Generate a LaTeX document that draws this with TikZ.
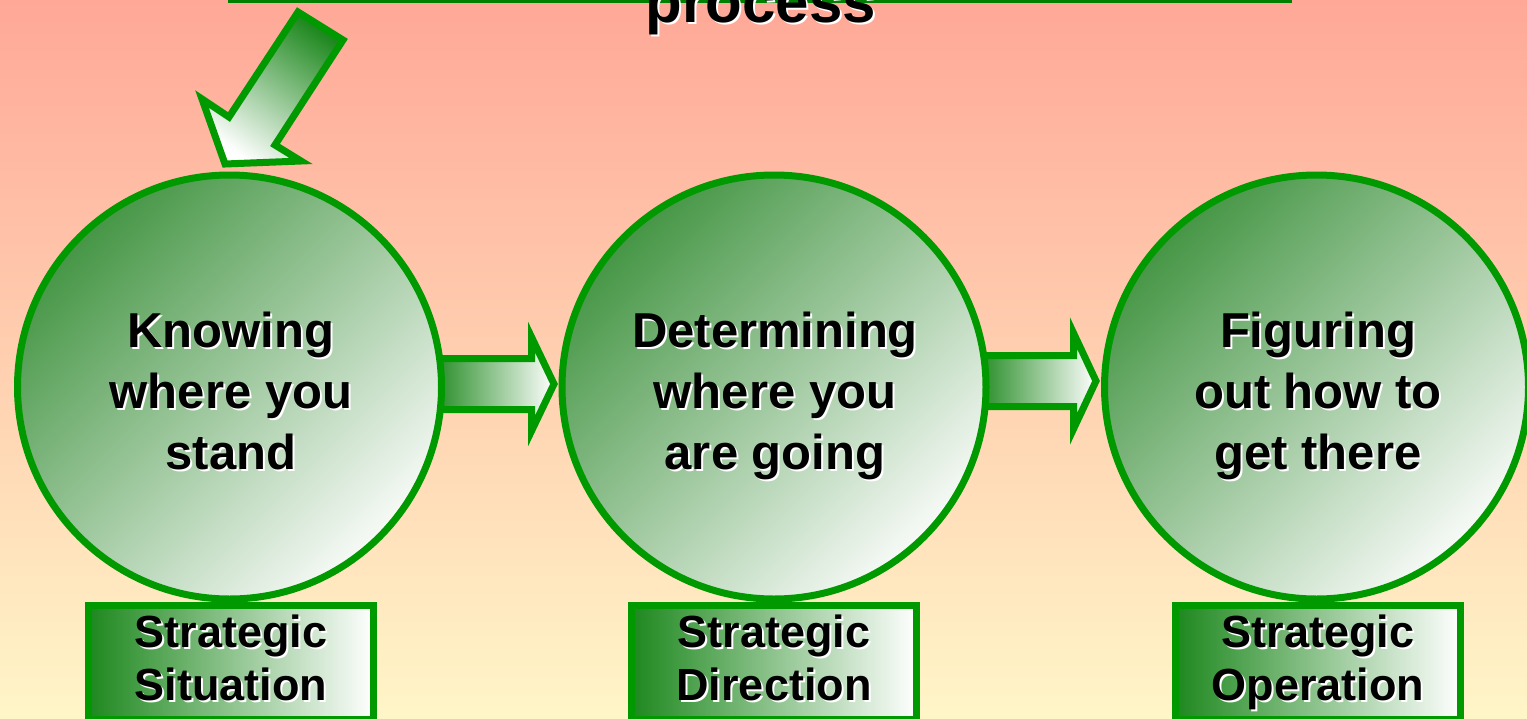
\documentclass[tikz,border=0pt]{standalone}
\usepackage{fontspec}
\setmainfont{Liberation Sans}
\definecolor{bgtop}{RGB}{255,168,152}
\definecolor{bgmid}{RGB}{255,210,177}
\definecolor{bgbot}{RGB}{255,246,200}
\definecolor{lgreen}{RGB}{0,153,0}
\definecolor{dgreen}{RGB}{0,128,0}
\definecolor{cdark}{RGB}{70,150,70}
\definecolor{cmid}{RGB}{165,203,165}
\definecolor{clight}{RGB}{247,250,247}
\definecolor{adark}{RGB}{30,136,30}
\definecolor{amid}{RGB}{160,200,160}
\newcommand\shd[1]{\rlap{\raisebox{-2pt}{\hspace*{2pt}\color{white}#1}}#1}
\tikzset{
  bigcirc/.style={circle, draw=lgreen, line width=7pt, minimum size=424pt, inner sep=0pt,
    top color=cdark, middle color=cmid, bottom color=clight, shading angle=45},
  sbox/.style={rectangle, draw=lgreen, line width=7pt, minimum width=285pt, minimum height=114.5pt,
    inner sep=0pt, anchor=north, left color=adark, middle color=amid, right color=white},
  blockarr/.style={draw=lgreen, line width=7pt, line join=miter, left color=adark, right color=white},
  clbl/.style={font=\fontsize{49}{61}\selectfont\bfseries, anchor=base, inner sep=0pt},
  blbl/.style={font=\fontsize{45}{53}\selectfont\bfseries, anchor=base, inner sep=0pt},
}
\begin{document}
\begin{tikzpicture}[x=1pt,y=-1pt]
\useasboundingbox (0,0) rectangle (1527,718);
\shade[top color=bgtop, middle color=bgmid, bottom color=bgbot] (0,0) rectangle (1527,718);

% top box (cut off) and its text
\node[draw=dgreen, line width=6pt, minimum width=1058pt, minimum height=200pt, anchor=south, inner sep=0pt] (top) at (760,3) {};
\node[font=\fontsize{60}{70}\selectfont\bfseries, anchor=base, inner sep=0pt] (ttl) at (761,22) {\shd{process}};

% diagonal arrow
\path[draw=lgreen, line width=7pt, line join=miter, top color=adark, bottom color=white, shading angle=-35]
  (298,12) -- (343,40) -- (275,145) -- (301,161) -- (225,164) -- (202,99) -- (229,117) -- cycle;

% horizontal block arrows
\path[blockarr] (430,358.5) -- (531.5,358.5) -- (531.5,337) -- (554,384) -- (531.5,431) -- (531.5,409.5) -- (430,409.5) -- cycle;
\path[blockarr] (975,355.5) -- (1073.5,355.5) -- (1073.5,333) -- (1096,381) -- (1073.5,429) -- (1073.5,406.5) -- (975,406.5) -- cycle;

% circles
\node[bigcirc] (c1) at (229.5,387) {};
\node[bigcirc] (c2) at (774,387) {};
\node[bigcirc] (c3) at (1316.5,387) {};

\node[clbl] (c1a) at (231,347) {\shd{Knowing}};
\node[clbl] (c1b) at (231,408) {\shd{where you}};
\node[clbl] (c1c) at (231,469) {\shd{stand}};

\node[clbl] (c2a) at (775,347) {\shd{Determining}};
\node[clbl] (c2b) at (775,408) {\shd{where you}};
\node[clbl] (c2c) at (775,469) {\shd{are going}};

\node[clbl] (c3a) at (1318,347) {\shd{Figuring}};
\node[clbl] (c3b) at (1318,408) {\shd{out how to}};
\node[clbl] (c3c) at (1318,469) {\shd{get there}};

% bottom boxes
\node[sbox] (b1) at (231,601.5) {};
\node[sbox] (b2) at (774,601.5) {};
\node[sbox] (b3) at (1318,601.5) {};

\node[blbl] (b1a) at (231,647) {\shd{Strategic}};
\node[blbl] (b1b) at (231,700) {\shd{Situation}};
\node[blbl] (b2a) at (774,647) {\shd{Strategic}};
\node[blbl] (b2b) at (774,700) {\shd{Direction}};
\node[blbl] (b3a) at (1318,647) {\shd{Strategic}};
\node[blbl] (b3b) at (1318,700) {\shd{Operation}};
\end{tikzpicture}
\end{document}
